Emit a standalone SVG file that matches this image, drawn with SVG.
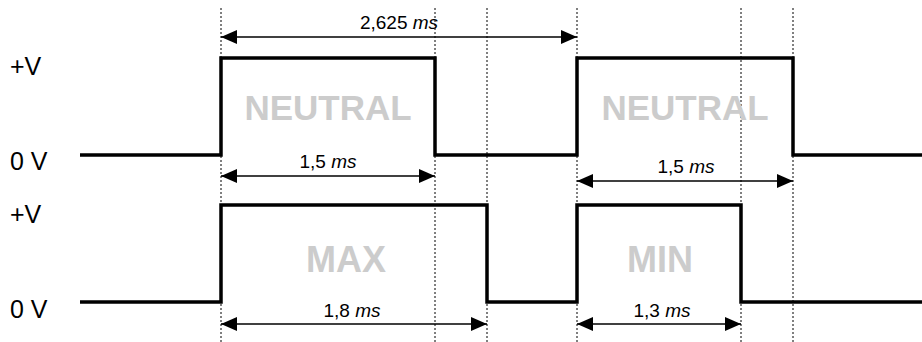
<svg xmlns="http://www.w3.org/2000/svg" width="922" height="342" viewBox="0 0 922 342">
  <defs>
    <style>
      .bg { fill: #ffffff; }
      .guide { stroke: #000000; stroke-width: 1; stroke-dasharray: 2 2; fill: none; }
      .signal { stroke: #000000; stroke-width: 3.5; fill: none; stroke-linejoin: miter; }
      .dim { stroke: #000000; stroke-width: 1.3; fill: none; marker-start: url(#tip); marker-end: url(#tip); }
      .level { font-family: "Liberation Sans", Arial, sans-serif; font-size: 25px; fill: #000000; }
      .measure { font-family: "Liberation Sans", Arial, sans-serif; font-size: 19px; fill: #000000; text-anchor: middle; }
      .state { font-family: "Liberation Sans", Arial, sans-serif; font-size: 35px; font-weight: bold; fill: #cccccc; text-anchor: middle; }
    </style>
    <marker id="tip" viewBox="0 0 16 14" refX="16" refY="7" markerWidth="16" markerHeight="14" markerUnits="userSpaceOnUse" orient="auto-start-reverse">
      <path d="M0,0 L16,7 L0,14 Z" fill="#000000"/>
    </marker>
  </defs>

  <rect class="bg" x="0" y="0" width="922" height="342"/>

  <!-- vertical timing guides -->
  <g id="guides">
    <line class="guide" x1="221" y1="8" x2="221" y2="342"/>
    <line class="guide" x1="435" y1="8" x2="435" y2="342"/>
    <line class="guide" x1="487" y1="8" x2="487" y2="342"/>
    <line class="guide" x1="577" y1="8" x2="577" y2="342"/>
    <line class="guide" x1="741" y1="8" x2="741" y2="342"/>
    <line class="guide" x1="793" y1="8" x2="793" y2="342"/>
  </g>

  <!-- voltage level labels -->
  <g id="levels">
    <text class="level" x="10" y="75">+V</text>
    <text class="level" x="10" y="170">0 V</text>
    <text class="level" x="10" y="223">+V</text>
    <text class="level" x="10" y="318">0 V</text>
  </g>

  <!-- pulse trains -->
  <g id="signal-neutral">
    <path class="signal" d="M80,155 H221 V58 H435 V155 H577 V58 H793 V155 H922"/>
    <text class="state" x="328" y="120">NEUTRAL</text>
    <text class="state" x="685" y="120">NEUTRAL</text>
  </g>
  <g id="signal-range">
    <path class="signal" d="M80,302 H221 V205 H487 V302 H577 V205 H741 V302 H922"/>
    <text class="state" x="346" y="272" style="font-size:36px">MAX</text>
    <text class="state" x="660" y="272" style="font-size:36px">MIN</text>
  </g>

  <!-- dimension arrows -->
  <g id="connectors">
    <line class="dim" x1="221" y1="37" x2="577" y2="37"/>
    <line class="dim" x1="221" y1="176" x2="435" y2="176"/>
    <line class="dim" x1="577" y1="181" x2="793" y2="181"/>
    <line class="dim" x1="221" y1="324" x2="487" y2="324"/>
    <line class="dim" x1="577" y1="324" x2="741" y2="324"/>
  </g>

  <g id="measures">
    <text class="measure" x="399" y="29">2,625 <tspan font-style="italic">ms</tspan></text>
    <text class="measure" x="328" y="168">1,5 <tspan font-style="italic">ms</tspan></text>
    <text class="measure" x="686" y="173">1,5 <tspan font-style="italic">ms</tspan></text>
    <text class="measure" x="352" y="317">1,8 <tspan font-style="italic">ms</tspan></text>
    <text class="measure" x="662" y="317">1,3 <tspan font-style="italic">ms</tspan></text>
  </g>
</svg>
